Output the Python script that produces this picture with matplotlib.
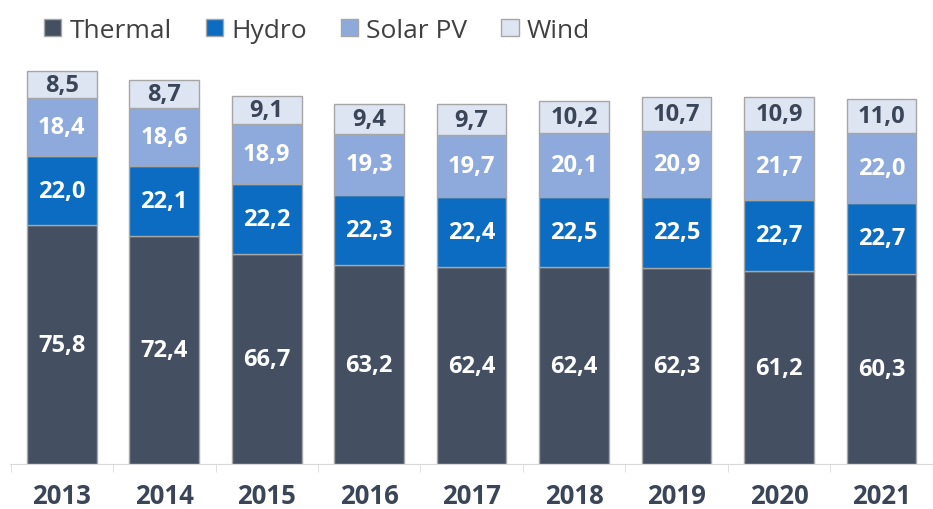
import numpy as np
import matplotlib.pyplot as plt
from matplotlib.patches import Patch

years = ['2013', '2014', '2015', '2016', '2017', '2018', '2019', '2020', '2021']
thermal = [75.8, 72.4, 66.7, 63.2, 62.4, 62.4, 62.3, 61.2, 60.3]
hydro = [22.0, 22.1, 22.2, 22.3, 22.4, 22.5, 22.5, 22.7, 22.7]
solar = [18.4, 18.6, 18.9, 19.3, 19.7, 20.1, 20.9, 21.7, 22.0]
wind = [8.5, 8.7, 9.1, 9.4, 9.7, 10.2, 10.7, 10.9, 11.0]

series = ['Thermal', 'Hydro', 'Solar PV', 'Wind']
colors = ['#444f62', '#0b6cc1', '#8eaadc', '#dde4f2']
label_colors = ['white', 'white', 'white', '#3a4558']

plt.rcParams['font.family'] = ['Open Sans', 'DejaVu Sans']

fig = plt.figure(figsize=(9.33, 5.10), dpi=100)
ax = fig.add_axes([0.0107, 0.088, 0.989, 0.794])

x = np.arange(len(years))
bottom = np.zeros(len(years))
for name, vals, c, lc in zip(series, [thermal, hydro, solar, wind], colors, label_colors):
    vals = np.array(vals)
    ax.bar(x, vals, 0.68, bottom=bottom, color=c, edgecolor='#a6a6a6', linewidth=1.0)
    for xi, b, v in zip(x, bottom, vals):
        ax.text(xi, b + v / 2, f'{v:.1f}'.replace('.', ','), ha='center', va='center',
                color=lc, fontsize=17, fontweight='bold')
    bottom += vals

ax.set_xlim(-0.506, 8.39)
ax.set_ylim(0, 128.5)
ax.set_xticks(x)
ax.set_xticklabels(years, fontsize=18.5, fontweight='bold', color='#3a4558')
ax.tick_params(axis='x', which='major', length=0, pad=13)
ax.set_xticks(np.arange(-0.5, 8.6, 1), minor=True)
ax.tick_params(axis='x', which='minor', length=6, color='#d9d9d9')
ax.set_yticks([])
for s in ['top', 'right', 'left']:
    ax.spines[s].set_visible(False)
ax.spines['bottom'].set_color('#d9d9d9')

handles = [Patch(facecolor=c, edgecolor='#a6a6a6', label=n) for n, c in zip(series, colors)]
fig.legend(handles=handles, loc='upper left', bbox_to_anchor=(0.022, 1.01), ncol=4,
           frameon=False, fontsize=19, handlelength=0.65, handleheight=0.65,
           handletextpad=0.3, columnspacing=1.3, labelcolor='#404040')

fig.savefig('out.png', dpi=100)
